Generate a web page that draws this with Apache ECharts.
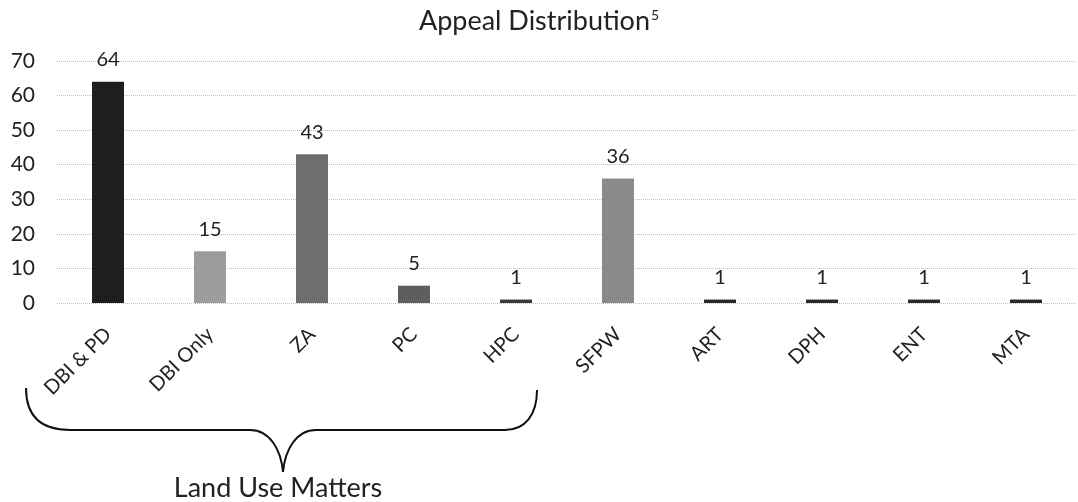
<!DOCTYPE html>
<html>
<head>
<meta charset="utf-8">
<script src="https://cdn.jsdelivr.net/npm/echarts@6/dist/echarts.min.js"></script>
<style>
  html, body { margin: 0; padding: 0; background: #fff; }
  #chart { width: 1078px; height: 502px; }
</style>
</head>
<body>
<div id="chart"></div>
<script>
// Appeal counts by department
const categories = ['DBI & PD', 'DBI Only', 'ZA', 'PC', 'HPC', 'SFPW', 'ART', 'DPH', 'ENT', 'MTA'];
const appeals = [64, 15, 43, 5, 1, 36, 1, 1, 1, 1];
const barColors = ['#1e1e1e', '#9c9c9c', '#6e6e6e', '#5e5e5e', '#3a3a3a', '#8a8a8a', '#2a2a2a', '#2a2a2a', '#2a2a2a', '#2a2a2a'];
const yTicks = { min: 0, max: 70, interval: 10 };

const FONT = 'Lato, "Open Sans", sans-serif';
const chart = echarts.init(document.getElementById('chart'), null, { renderer: 'canvas' });

// pieces of the curly brace under the land-use departments
const braceStyle = { fill: 'none', stroke: '#111', lineWidth: 2 };
const braceParts = [
  { type: 'bezierCurve', shape: { x1: 26, y1: 388, cpx1: 26, cpy1: 415, cpx2: 40, cpy2: 430, x2: 70, y2: 430 } },
  { type: 'line', shape: { x1: 70, y1: 430, x2: 250, y2: 430 } },
  { type: 'bezierCurve', shape: { x1: 250, y1: 430, cpx1: 270, cpy1: 430, cpx2: 281, cpy2: 450, x2: 283, y2: 472 } },
  { type: 'bezierCurve', shape: { x1: 283, y1: 472, cpx1: 285, cpy1: 450, cpx2: 296, cpy2: 430, x2: 316, y2: 430 } },
  { type: 'line', shape: { x1: 316, y1: 430, x2: 505, y2: 430 } },
  { type: 'bezierCurve', shape: { x1: 505, y1: 430, cpx1: 525, cpy1: 430, cpx2: 537, cpy2: 415, x2: 537, y2: 390 } }
].map(p => Object.assign(p, { style: braceStyle, silent: true }));

chart.setOption({
  backgroundColor: '#ffffff',
  animation: false,
  textStyle: { fontFamily: FONT, color: '#222' },
  title: {
    text: '{t|Appeal Distribution}{s|5}',
    left: 'center',
    top: 3,
    textStyle: {
      fontWeight: 'normal',
      rich: {
        t: { fontFamily: FONT, fontSize: 27, fontWeight: 'normal', color: '#222' },
        s: { fontFamily: FONT, fontSize: 14, fontWeight: 'normal', color: '#222', verticalAlign: 'top', padding: [0, 0, 10, 1] }
      }
    }
  },
  grid: { left: 57, right: 1, top: 61, bottom: 199, containLabel: false },
  xAxis: {
    type: 'category',
    data: categories,
    axisLine: { show: false },
    axisTick: { show: false },
    axisLabel: {
      interval: 0,
      rotate: 45,
      margin: 28,
      fontSize: 20,
      color: '#222',
      fontFamily: FONT
    }
  },
  yAxis: {
    type: 'value',
    min: yTicks.min,
    max: yTicks.max,
    interval: yTicks.interval,
    axisLine: { show: false },
    axisTick: { show: false },
    axisLabel: { margin: 22, fontSize: 21, color: '#222', fontFamily: FONT },
    splitLine: { show: true, lineStyle: { color: '#bdbdbd', type: 'dotted', width: 1 } }
  },
  series: [{
    type: 'bar',
    barWidth: 32,
    data: appeals.map((v, i) => ({ value: v, itemStyle: { color: barColors[i] } })),
    label: {
      show: true,
      position: 'top',
      distance: 12,
      fontSize: 20,
      color: '#222',
      fontFamily: FONT
    }
  }],
  graphic: braceParts.concat([
    {
      type: 'text',
      x: 278,
      y: 488,
      style: {
        text: 'Land Use Matters',
        fontSize: 27,
        fontFamily: FONT,
        fill: '#222',
        align: 'center',
        verticalAlign: 'middle'
      }
    }
  ])
});
</script>
</body>
</html>
